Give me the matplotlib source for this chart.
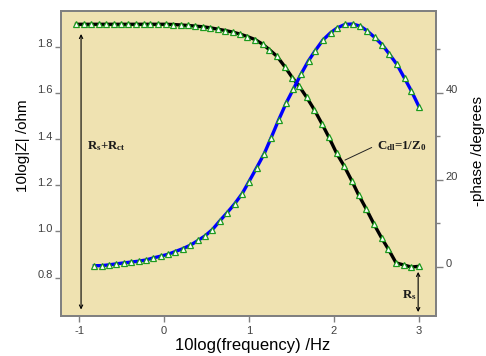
import matplotlib
matplotlib.use("Agg")
import matplotlib.pyplot as plt
import matplotlib.transforms as mtransforms

plt.rcParams['font.family'] = ['Liberation Sans', 'DejaVu Sans']
plt.rcParams['mathtext.fontset'] = 'custom'
plt.rcParams['mathtext.rm'] = 'Liberation Serif'
plt.rcParams['mathtext.bf'] = 'Liberation Serif:bold'

# Bode data: log10 of frequency, log10 |Z| and -phase
logf_mag = [-1.03, -0.94, -0.86, -0.77, -0.68, -0.59, -0.51, -0.42, -0.33, -0.24,
            -0.16, -0.07, 0.02, 0.11, 0.20, 0.28, 0.37, 0.46, 0.54, 0.63,
            0.72, 0.81, 0.89, 0.98, 1.07, 1.16, 1.24, 1.33, 1.42, 1.51,
            1.59, 1.68, 1.77, 1.86, 1.94, 2.03, 2.12, 2.21, 2.29, 2.38,
            2.47, 2.56, 2.64, 2.73, 2.82, 2.91, 3.00]
log_z = [1.897, 1.897, 1.897, 1.897, 1.897, 1.897, 1.897, 1.897, 1.897, 1.897,
         1.897, 1.897, 1.897, 1.896, 1.894, 1.892, 1.889, 1.886, 1.882, 1.876,
         1.870, 1.863, 1.855, 1.844, 1.831, 1.811, 1.787, 1.758, 1.714, 1.666,
         1.629, 1.580, 1.526, 1.465, 1.408, 1.339, 1.283, 1.219, 1.158, 1.097,
         1.032, 0.972, 0.923, 0.864, 0.855, 0.846, 0.849]

logf_ph = [-0.82, -0.73, -0.65, -0.56, -0.47, -0.39, -0.30, -0.21, -0.13, -0.04,
           0.05, 0.13, 0.22, 0.31, 0.40, 0.48, 0.57, 0.66, 0.74, 0.83,
           0.92, 1.00, 1.09, 1.18, 1.26, 1.35, 1.44, 1.52, 1.61, 1.70,
           1.78, 1.87, 1.96, 2.04, 2.13, 2.22, 2.31, 2.39, 2.48, 2.57,
           2.65, 2.74, 2.83, 2.91, 3.00]
phase = [0.23, 0.25, 0.42, 0.66, 0.88, 1.06, 1.26, 1.56, 2.00, 2.42,
         2.87, 3.47, 4.14, 4.94, 6.03, 7.05, 8.55, 10.62, 12.35, 14.42,
         16.82, 19.58, 22.76, 26.02, 29.63, 33.80, 37.74, 40.76, 44.21, 47.34,
         49.68, 52.12, 53.79, 54.92, 55.70, 55.79, 55.29, 54.21, 52.69, 50.96,
         48.90, 46.50, 43.31, 40.43, 36.78]

x_ticks = [-1, 0, 1, 2, 3]
z_ticks = [0.8, 1.0, 1.2, 1.4, 1.6, 1.8]
ph_ticks = [0, 20, 40]
ph_minor = [10, 30, 50]

W, H = 486, 356
fig = plt.figure(figsize=(W / 100, H / 100), dpi=100)
ax = fig.add_axes([61 / W, 1 - 316 / H, 375 / W, 305 / H])
ax.set_facecolor('#EFE2B1')
ax2 = ax.twinx()

spine_c = '#808080'
for a in (ax, ax2):
    for s in a.spines.values():
        s.set_color(spine_c)
        s.set_linewidth(1.3)

marker_kw = dict(marker='^', markersize=4.4, markerfacecolor='white',
                 markeredgecolor='#1E9A1E', markeredgewidth=0.9)
ax.plot(logf_mag, log_z, color='black', lw=2.4, zorder=3, **marker_kw)
ax2.plot(logf_ph, phase, color='#0000FF', lw=2.4, zorder=3, **marker_kw)

ax.set_xlim(-1.212, 3.2)
ax.set_ylim(0.634, 1.9545)
ax2.set_ylim(-11.33, 58.78)

ax.set_xticks(x_ticks)
ax.set_xticklabels([str(v) for v in x_ticks])
ax.set_yticks(z_ticks)
ax.set_yticklabels([f'{v:.1f}' for v in z_ticks])
ax2.set_yticks(ph_ticks)
ax2.set_yticklabels([str(v) for v in ph_ticks])
ax2.set_yticks(ph_minor, minor=True)

lab_c = '#404040'
ax.tick_params(axis='x', direction='out', length=4.3, width=1, color=spine_c,
               labelsize=8, labelcolor=lab_c, pad=3)
ax.tick_params(axis='y', direction='out', length=4.3, width=1, color=spine_c,
               labelsize=8, labelcolor=lab_c, pad=1.7)
ax2.tick_params(axis='y', which='major', direction='out', length=4.8, width=1,
                color=spine_c, labelsize=8, labelcolor=lab_c, pad=2)
ax2.tick_params(axis='y', which='minor', direction='out', length=3, width=1,
                color=spine_c)

# raise the vertical tick labels slightly above their ticks
lift = mtransforms.ScaledTranslation(0, 3.5 / 100, fig.dpi_scale_trans)
for lab in ax.get_yticklabels() + ax2.get_yticklabels():
    lab.set_transform(lab.get_transform() + lift)

fig.text(23.5 / W, 1 - 146 / H, '10log|Z| /ohm', rotation=90, fontsize=11,
         ha='center', va='center', color='black')
fig.text(478 / W, 1 - 151 / H, '-phase /degrees', rotation=90, fontsize=11,
         ha='center', va='center', color='black')
fig.text(253 / W, 1 - 350 / H, '10log(frequency) /Hz', fontsize=12,
         ha='center', va='baseline', color='black')

note_kw = dict(fontsize=9.3, family='Liberation Serif', fontweight='bold',
               ha='left', va='baseline', color='#1a1a1a')
arrow_kw = dict(arrowstyle='<->', lw=0.8, color='black', mutation_scale=6,
                shrinkA=0, shrinkB=0)

# total resistance span
ax.annotate('', xy=(-0.976, 1.855), xytext=(-0.976, 0.662), arrowprops=arrow_kw)
ax.text(-0.906, 1.357, r'$\mathbf{R_{s}}$+$\mathbf{R_{ct}}$', **note_kw)

# double-layer capacitance
ax.annotate(r'$\mathbf{C_{dl}}$=1/$\mathbf{Z_{0}}$', xy=(2.129, 1.309),
            xytext=(2.506, 1.355), **note_kw,
            arrowprops=dict(arrowstyle='-', lw=0.7, color='#222222',
                            relpos=(0, 0.6), shrinkA=2, shrinkB=0))

# solution resistance
ax.annotate('', xy=(2.99, 0.825), xytext=(2.99, 0.651), arrowprops=arrow_kw)
ax.text(2.796, 0.711, r'$\mathbf{R_{s}}$', **note_kw)

fig.savefig('out.png', dpi=100)
